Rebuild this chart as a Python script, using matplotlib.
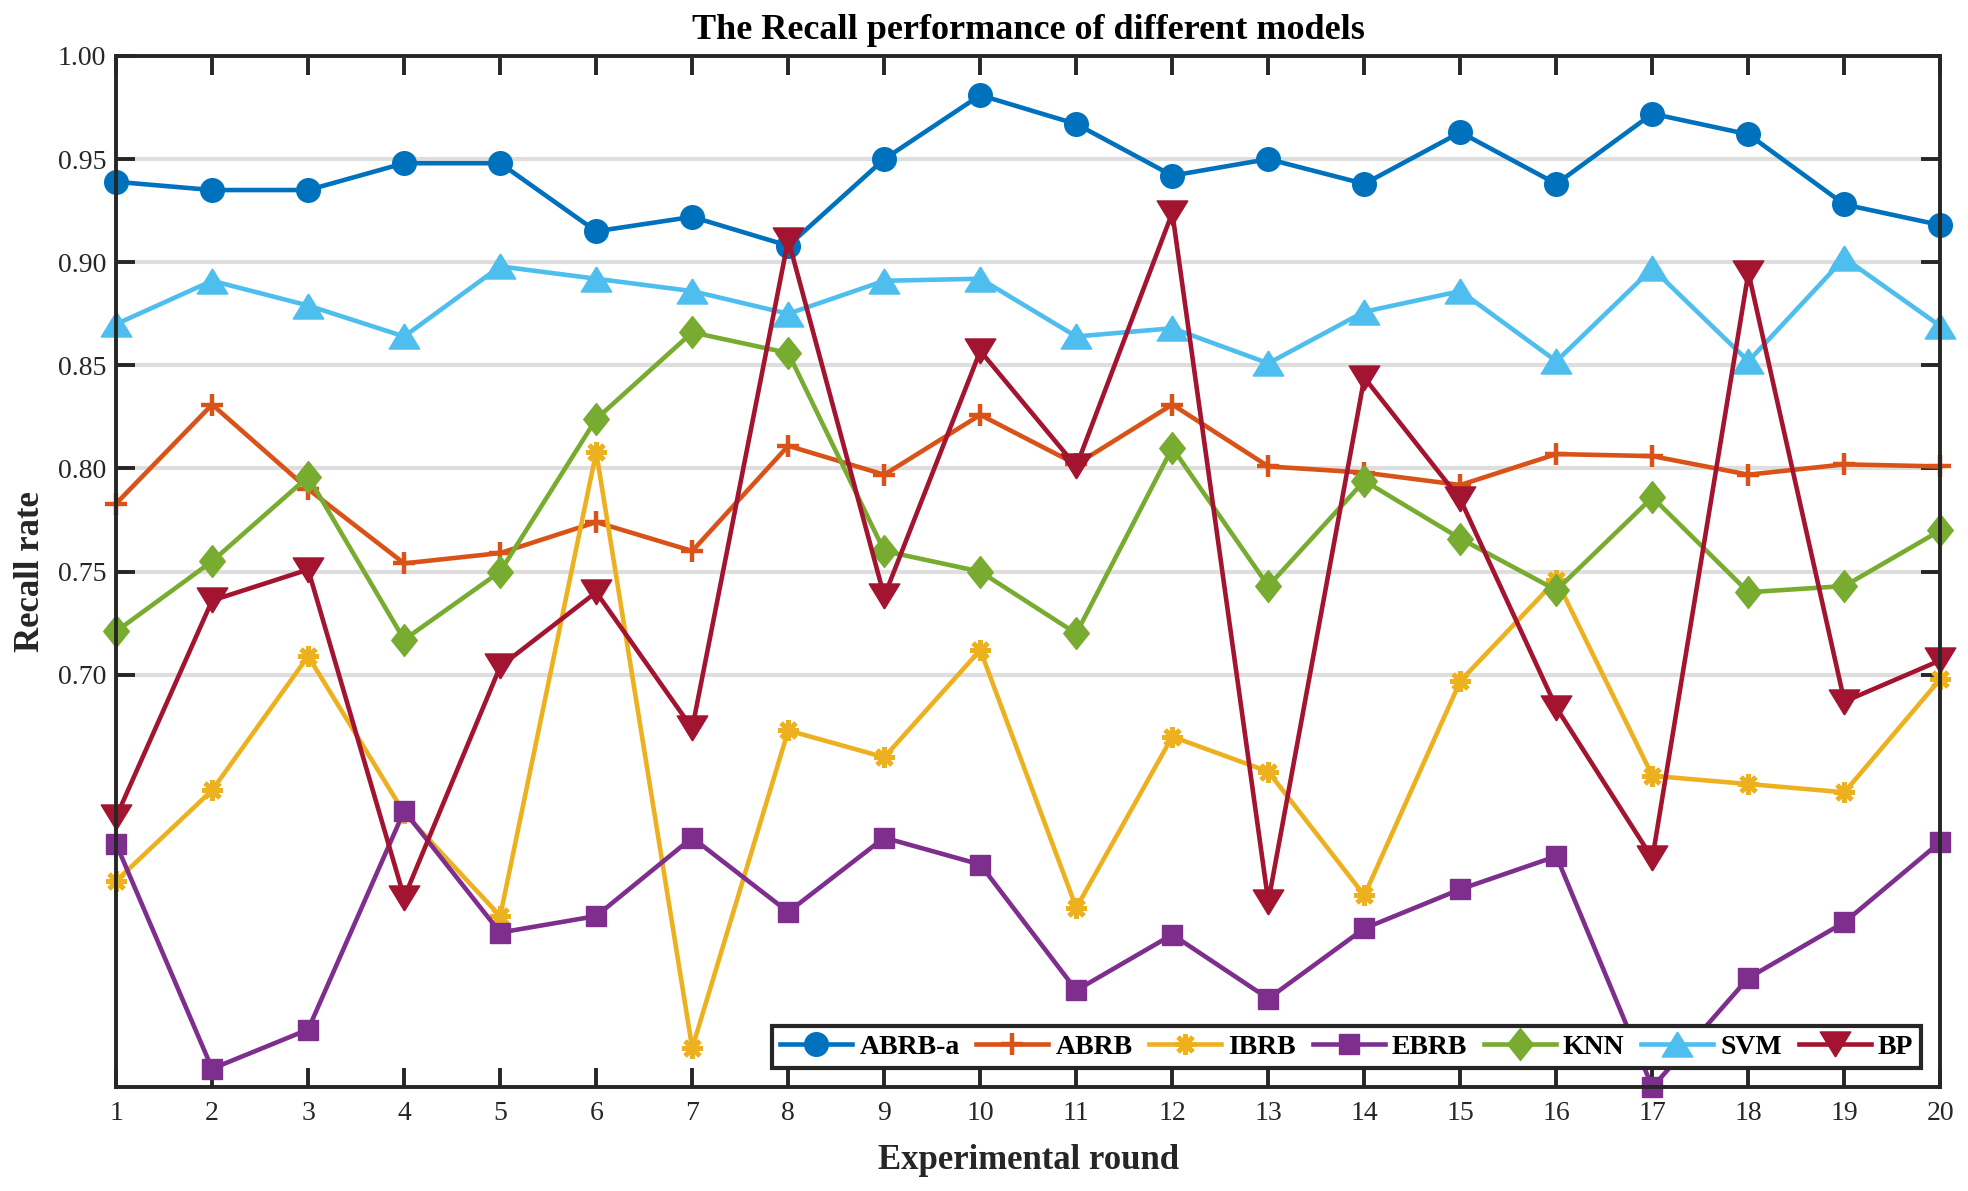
import matplotlib
matplotlib.use("Agg")
import matplotlib.pyplot as plt
from matplotlib.ticker import FixedLocator, FormatStrFormatter

plt.rcParams['font.family'] = ['Liberation Serif', 'DejaVu Serif']

rounds = list(range(1, 21))
series_names = ["ABRB-a", "ABRB", "IBRB", "EBRB", "KNN", "SVM", "BP"]

abrb_a = [0.939, 0.935, 0.935, 0.948, 0.948, 0.915, 0.922, 0.908, 0.950, 0.981,
          0.967, 0.942, 0.950, 0.938, 0.963, 0.938, 0.972, 0.962, 0.928, 0.918]
abrb = [0.783, 0.831, 0.790, 0.754, 0.759, 0.774, 0.760, 0.811, 0.797, 0.826,
        0.802, 0.831, 0.801, 0.798, 0.792, 0.807, 0.806, 0.797, 0.802, 0.801]
ibrb = [0.600, 0.644, 0.709, 0.633, 0.583, 0.808, 0.519, 0.673, 0.660, 0.712,
        0.587, 0.670, 0.653, 0.593, 0.697, 0.746, 0.651, 0.647, 0.643, 0.698]
ebrb = [0.618, 0.509, 0.528, 0.634, 0.575, 0.583, 0.621, 0.585, 0.621, 0.608,
        0.547, 0.574, 0.543, 0.577, 0.596, 0.612, 0.500, 0.553, 0.580, 0.619]
knn = [0.721, 0.755, 0.796, 0.717, 0.750, 0.824, 0.866, 0.856, 0.760, 0.750,
       0.720, 0.810, 0.743, 0.794, 0.766, 0.741, 0.786, 0.740, 0.743, 0.770]
svm = [0.870, 0.891, 0.879, 0.864, 0.898, 0.892, 0.886, 0.875, 0.891, 0.892,
       0.864, 0.868, 0.851, 0.876, 0.886, 0.852, 0.897, 0.852, 0.902, 0.869]
bp = [0.631, 0.736, 0.751, 0.592, 0.704, 0.740, 0.674, 0.911, 0.738, 0.857,
      0.801, 0.924, 0.590, 0.844, 0.785, 0.684, 0.611, 0.895, 0.687, 0.707]

yticks = [0.70, 0.75, 0.80, 0.85, 0.90, 0.95, 1.00]

colors = ["#0072BD", "#D95319", "#EDB120", "#7E2F8E", "#77AC30", "#4DBEEE", "#A2142F"]

tri_up = [(0, 1), (-1.22, -1), (1.22, -1), (0, 1)]
tri_down = [(0, -1), (-1.22, 1), (1.22, 1), (0, -1)]
diamond = [(0, 1), (0.8, 0), (0, -1), (-0.8, 0), (0, 1)]

styles = [
    dict(marker='o', ms=17, mew=1),
    dict(marker='+', ms=16, mew=3.2),
    dict(marker=(8, 2, 0), ms=15, mew=3.4),
    dict(marker='s', ms=14, mew=1),
    dict(marker=diamond, ms=23, mew=1),
    dict(marker=tri_up, ms=22, mew=1),
    dict(marker=tri_down, ms=22, mew=1),
]

data = [abrb_a, abrb, ibrb, ebrb, knn, svm, bp]

fig = plt.figure(figsize=(19.68, 11.91), dpi=100)
ax = fig.add_axes([0.059, 0.0871, 0.927, 0.8659])

for name, vals, c, st in zip(series_names, data, colors, styles):
    ax.plot(rounds, vals, color=c, lw=3.3, mfc=c, mec=c, label=name,
            clip_on=False, **st)

ax.set_xlim(1, 20)
ax.set_ylim(0.5, 1.0)
ax.xaxis.set_major_locator(FixedLocator(rounds))
ax.yaxis.set_major_locator(FixedLocator(yticks))
ax.yaxis.set_major_formatter(FormatStrFormatter('%.2f'))

ax.grid(axis='y', color='#DEDEDE', lw=3.0)
ax.set_axisbelow(True)

dark = '#262626'
for sp in ax.spines.values():
    sp.set_linewidth(2.8)
    sp.set_color(dark)
    sp.set_zorder(5)

ax.tick_params(axis='both', which='major', direction='in', length=14, width=2.8,
               colors=dark, labelsize=20, top=True, right=True)
ax.tick_params(axis='y', pad=7)
ax.tick_params(axis='x', pad=10)

ax.set_title("The Recall performance of different models", fontsize=26,
             fontweight='bold', pad=12)
ax.set_xlabel("Experimental round", fontsize=25, fontweight='bold', color=dark, labelpad=13)
ax.set_ylabel("Recall rate", fontsize=25, fontweight='bold', color=dark, labelpad=8)

leg = ax.legend(loc='lower right', bbox_to_anchor=(0.9896, 0.0184), borderaxespad=0,
                ncol=7, prop={'weight': 'bold', 'size': 20},
                frameon=True, fancybox=False, edgecolor='#262626',
                handlelength=2.6, handletextpad=0.25, columnspacing=0.6,
                borderpad=0.3)
leg.get_frame().set_linewidth(3.0)
leg.get_frame().set_alpha(1)
leg.set_zorder(10)

fig.savefig("out.png", dpi=100)
